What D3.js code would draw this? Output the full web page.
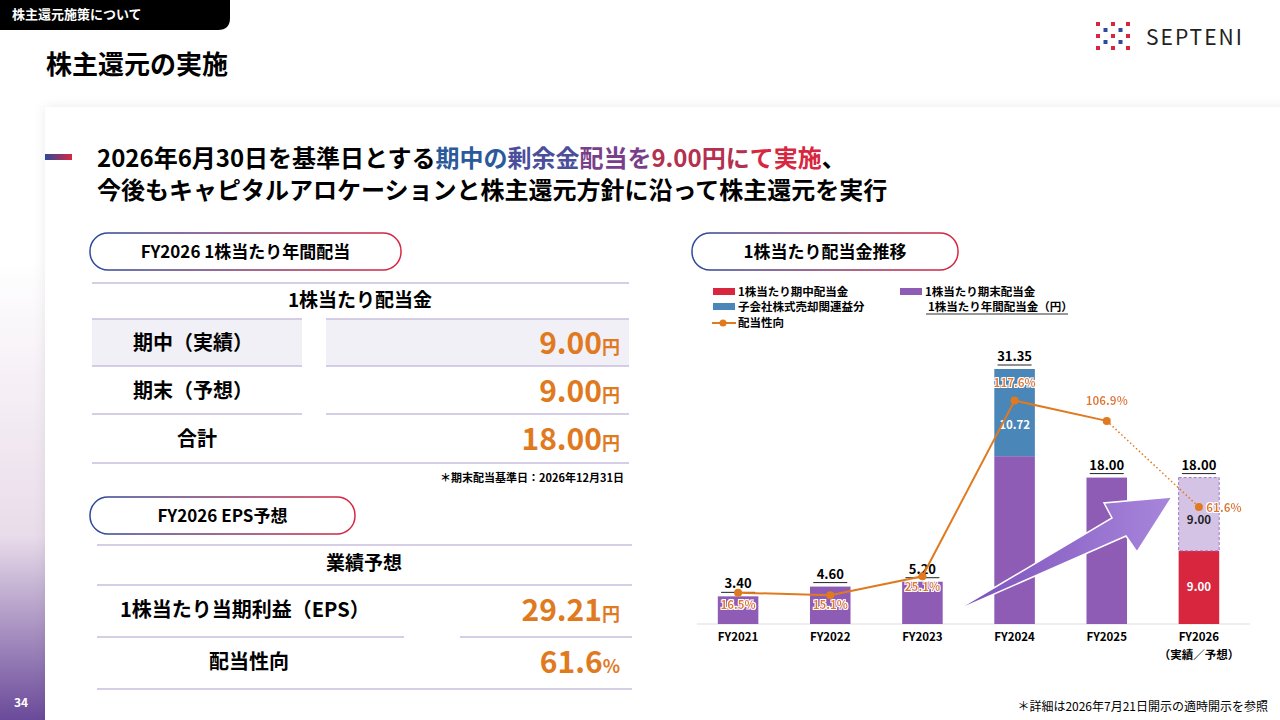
<!DOCTYPE html>
<html><head><meta charset="utf-8">
<script src="https://cdn.jsdelivr.net/npm/d3@7"></script>
<style>
body{margin:0;width:1280px;height:720px;overflow:hidden;font-family:"Noto Sans CJK JP","Noto Sans",sans-serif;background:#fff}
text{font-family:"Noto Sans CJK JP","Noto Sans",sans-serif}
</style></head><body>
<svg id="s" width="1280" height="720"></svg>
<script>
const years=["FY2021","FY2022","FY2023","FY2024","FY2025","FY2026"];
const interim=[0,0,0,0,0,9.00];
const yearEnd=[3.40,4.60,5.20,20.63,18.00,9.00];
const special=[0,0,0,10.72,0,0];
const totals=["3.40","4.60","5.20","31.35","18.00","18.00"];
const payout=[16.5,15.1,25.1,117.6,106.9,61.6];

const svg=d3.select("#s");
const defs=svg.append("defs");
const lg=defs.append("linearGradient").attr("id","lg").attr("x1",0).attr("x2",0).attr("y1",0).attr("y2",1);
lg.append("stop").attr("offset","0").attr("stop-color","#fff");
lg.append("stop").attr("offset","0.6").attr("stop-color","#e9dcea");
lg.append("stop").attr("offset","1").attr("stop-color","#6a4a9a");
const bg=defs.append("linearGradient").attr("id","bg");
bg.append("stop").attr("offset","0").attr("stop-color","#2b4a9b");
bg.append("stop").attr("offset","1").attr("stop-color","#d8263f");
const ag=defs.append("linearGradient").attr("id","ag");
ag.append("stop").attr("offset","0").attr("stop-color","#7a4fb8");
ag.append("stop").attr("offset","1").attr("stop-color","#a886dc");
const f=defs.append("filter").attr("id","sh").attr("x","-5%").attr("y","-5%").attr("width","110%").attr("height","110%");
f.append("feDropShadow").attr("dx",0).attr("dy",0).attr("stdDeviation",6).attr("flood-color","#000").attr("flood-opacity",0.08);
const ws=defs.append("filter").attr("id","ws");
ws.append("feMorphology").attr("in","SourceAlpha").attr("operator","dilate").attr("radius",1.2).attr("result","d");
ws.append("feFlood").attr("flood-color","#fff");
ws.append("feComposite").attr("in2","d").attr("operator","in").attr("result","o");
const wm=ws.append("feMerge");wm.append("feMergeNode").attr("in","o");wm.append("feMergeNode").attr("in","SourceGraphic");

svg.append("rect").attr("x",0).attr("y",260).attr("width",45).attr("height",460).attr("fill","url(#lg)");
svg.append("rect").attr("x",45).attr("y",107).attr("width",1250).attr("height",640).attr("fill","#fff").attr("filter","url(#sh)");
svg.append("path").attr("d","M0,0H230V18Q230,30 218,30H0Z").attr("fill","#000");
svg.append("text").attr("x",12).attr("y",19).attr("fill","#fff").attr("font-size",13).attr("font-weight",700).text("株主還元施策について");
svg.append("text").attr("x",46).attr("y",74).attr("font-size",26).attr("font-weight",700).text("株主還元の実施");
svg.append("text").attr("x",14).attr("y",707).attr("fill","#fff").attr("font-size",12).attr("font-weight",700).text("34");
for(let i=0;i<5;i++)for(let j=0;j<5;j++){if((i+j)%2==1)continue;svg.append("rect").attr("x",1096+i*7.5).attr("y",22+j*6).attr("width",4).attr("height",4).attr("fill",(i%2==0)?"#d8263f":"#2b4a9b");}
svg.append("text").attr("x",1146).attr("y",45).attr("font-size",21).attr("font-family","Noto Sans").attr("letter-spacing",2).attr("fill","#222").text("SEPTENI");
svg.append("rect").attr("x",45).attr("y",154).attr("width",27).attr("height",6).attr("fill","url(#bg)");
const h1=svg.append("text").attr("x",97).attr("y",167).attr("font-size",24).attr("font-weight",700);
h1.append("tspan").text("2026年6月30日を基準日とする");
h1.append("tspan").attr("fill","#2b5a9b").text("期中の");
h1.append("tspan").attr("fill","#4b4f9b").text("剰余金");
h1.append("tspan").attr("fill","#7a3f8a").text("配当を");
h1.append("tspan").attr("fill","#b3304e").text("9.00円に");
h1.append("tspan").attr("fill","#d8263f").text("て実施");
h1.append("tspan").text("、");
svg.append("text").attr("x",97).attr("y",199).attr("font-size",24).attr("font-weight",700).text("今後もキャピタルアロケーションと株主還元方針に沿って株主還元を実行");
function pill(x,y,w,t){svg.append("rect").attr("x",x).attr("y",y).attr("width",w).attr("height",37).attr("rx",18).attr("fill","#fff").attr("stroke","url(#bg)").attr("stroke-width",1.5);
svg.append("text").attr("x",x+w/2).attr("y",y+25).attr("text-anchor","middle").attr("font-size",17).attr("font-weight",700).text(t);}
pill(90,233,311,"FY2026 1株当たり年間配当");
pill(90,497,265,"FY2026 EPS予想");
pill(692,233,266,"1株当たり配当金推移");
const lc="#c9bedf";
function hl(x1,x2,y){svg.append("line").attr("x1",x1).attr("x2",x2).attr("y1",y).attr("y2",y).attr("stroke",lc).attr("stroke-width",1.5);}
hl(92,629,283);
svg.append("text").attr("x",360).attr("y",307).attr("text-anchor","middle").attr("font-size",19).attr("font-weight",700).text("1株当たり配当金");
svg.append("rect").attr("x",92).attr("y",319).attr("width",210).attr("height",47).attr("fill","#f2f0f7");
svg.append("rect").attr("x",326).attr("y",319).attr("width",303).attr("height",47).attr("fill","#f2f0f7");
hl(92,302,319);hl(326,629,319);hl(92,302,366);hl(326,629,366);hl(92,302,414);hl(326,629,414);hl(92,629,463);
function row(y,l,v,u,lx,rx){svg.append("text").attr("x",lx).attr("y",y).attr("font-size",20).attr("font-weight",700).text(l);
const t=svg.append("text").attr("x",rx).attr("y",y+4).attr("text-anchor","end").attr("fill","#e07a1f").attr("font-weight",700);
t.append("tspan").attr("font-size",30).text(v);t.append("tspan").attr("font-size",18).text(u);}
row(350,"期中（実績）","9.00","円",133,620);row(398,"期末（予想）","9.00","円",133,620);row(446,"合計","18.00","円",177,620);
svg.append("text").attr("x",624).attr("y",482).attr("text-anchor","end").attr("font-size",11).attr("font-weight",700).text("＊期末配当基準日：2026年12月31日");
hl(97,632,545);
svg.append("text").attr("x",364).attr("y",570).attr("text-anchor","middle").attr("font-size",19).attr("font-weight",700).text("業績予想");
hl(97,632,585);hl(97,404,637);hl(460,632,637);hl(97,632,689);
row(617,"1株当たり当期利益（EPS）","29.21","円",120,620);
row(669,"配当性向","61.6","%",209,620);
svg.append("text").attr("x",1268).attr("y",711).attr("text-anchor","end").attr("font-size",12).text("＊詳細は2026年7月21日開示の適時開示を参照");

// ---- chart ----
const x=d3.scaleBand().domain(years).range([692,1245]).paddingInner(0.56).paddingOuter(0.28);
const y=d3.scaleLinear().domain([0,31.35]).range([624,369]);
const yp=d3.scaleLinear().domain([0,100]).range([624,434]);
const bw=x.bandwidth();
const cx=d=>x(d)+bw/2;
const g=svg.append("g");
const L=[[713,292,"#d8263f","1株当たり期中配当金"],[900,292,"#8e5bb5","1株当たり期末配当金"],[713,307,"#4a86b8","子会社株式売却関連益分"]];
L.forEach(l=>{g.append("rect").attr("x",l[0]).attr("y",l[1]-4).attr("width",22).attr("height",7).attr("fill",l[2]);
g.append("text").attr("x",l[0]+25).attr("y",l[1]+4).attr("font-size",11.5).attr("font-weight",700).text(l[3]);});
g.append("text").attr("x",928).attr("y",311).attr("font-size",11.5).attr("font-weight",700).text("1株当たり年間配当金（円）");
g.append("line").attr("x1",926).attr("x2",1068).attr("y1",314).attr("y2",314).attr("stroke","#333");
g.append("line").attr("x1",712).attr("x2",736).attr("y1",323).attr("y2",323).attr("stroke","#e07a1f").attr("stroke-width",2);
g.append("circle").attr("cx",723).attr("cy",323).attr("r",3.5).attr("fill","#e07a1f");
g.append("text").attr("x",738).attr("y",327).attr("font-size",11.5).attr("font-weight",700).text("配当性向");
g.append("line").attr("x1",697).attr("x2",1250).attr("y1",624).attr("y2",624).attr("stroke","#ddd");
years.forEach(yr=>{
  g.append("text").attr("x",cx(yr)).attr("y",641).attr("text-anchor","middle").attr("font-size",11.5).attr("font-weight",700).text(yr);
});
g.append("text").attr("x",cx("FY2026")).attr("y",659).attr("text-anchor","middle").attr("font-size",11.5).attr("font-weight",700).text("（実績／予想）");
years.forEach((yr,i)=>{
  let b=0;
  const segs=[[interim[i],"#d8263f"],[yearEnd[i],i==5?"#d5c3e6":"#8e5bb5"],[special[i],"#4a86b8"]];
  segs.forEach(s=>{ if(s[0]>0){
    const r=g.append("rect").attr("x",x(yr)).attr("y",y(b+s[0])).attr("width",bw).attr("height",y(b)-y(b+s[0])).attr("fill",s[1]);
    if(i==5&&s[1]=="#d5c3e6")r.attr("stroke","#9c7ac6").attr("stroke-dasharray","3,2").attr("stroke-width",1);
    b+=s[0];}});
  const top=y(b);
  g.append("text").attr("x",cx(yr)).attr("y",top-8).attr("text-anchor","middle").attr("font-size",13).attr("font-weight",700).text(totals[i]);
  g.append("line").attr("x1",cx(yr)-17).attr("x2",cx(yr)+17).attr("y1",top-4).attr("y2",top-4).attr("stroke","#222");
});
g.append("text").attr("x",cx("FY2024")).attr("y",y(20.63+10.72/2)+16).attr("text-anchor","middle").attr("fill","#fff").attr("font-size",11.5).attr("font-weight",700).text("10.72");
g.append("text").attr("x",cx("FY2026")).attr("y",y(4.5)+4).attr("text-anchor","middle").attr("fill","#fff").attr("font-size",11.5).attr("font-weight",700).text("9.00");
g.append("text").attr("x",cx("FY2026")).attr("y",y(13.5)+10).attr("text-anchor","middle").attr("fill","#222").attr("font-size",11.5).attr("font-weight",700).text("9.00");
g.append("path").attr("d","M953,612 L1112,518 L1104,503 L1172,497 L1137,552 L1126,536 Z").attr("fill","url(#ag)").attr("stroke","#fff").attr("stroke-width",1.5);
const ln=d3.line().x((d,i)=>cx(years[i])).y(d=>yp(d));
g.append("path").attr("d",ln(payout.slice(0,5))).attr("fill","none").attr("stroke","#e07a1f").attr("stroke-width",2);
g.append("path").attr("d",`M${cx("FY2025")},${yp(payout[4])}L${cx("FY2026")},${yp(payout[5])}`).attr("stroke","#e07a1f").attr("stroke-width",1.5).attr("stroke-dasharray","1.5,2.5");
payout.forEach((p,i)=>g.append("circle").attr("cx",cx(years[i])).attr("cy",yp(p)).attr("r",4).attr("fill","#e07a1f"));
const off=[[0,16],[0,14],[0,15],[0,-14],[0,-16],[25,5]];
payout.forEach((p,i)=>g.append("text").attr("x",cx(years[i])+off[i][0]).attr("y",yp(p)+off[i][1]).attr("text-anchor","middle").attr("fill","#e07a1f").attr("font-size",11.5).attr("font-weight",700).attr("filter","url(#ws)").text(p.toFixed(1)+"%"));
</script></body></html>
